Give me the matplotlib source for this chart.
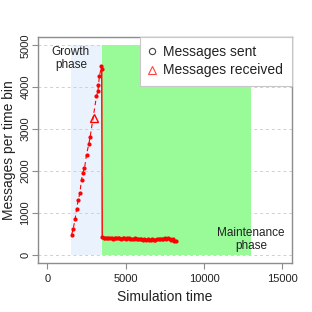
import matplotlib
matplotlib.use("Agg")
import matplotlib.pyplot as plt
from matplotlib.lines import Line2D

plt.rcParams["font.family"] = ["Liberation Sans", "DejaVu Sans"]

# phase boundaries (simulation time) and their vertical extent
GROWTH_SPAN = [1500, 3500]
MAINT_SPAN = [3500, 13000]
SPAN_Y = [0, 5000]

# messages sent during growth (dashed)
growth_t = [1541, 1643, 1771, 1860, 1962, 2070, 2178, 2261, 2369, 2497,
            2643, 2726, 3134, 3236, 3261, 3325, 3452]
growth_sent = [467, 610, 849, 1081, 1297, 1464, 1789, 1957, 2062, 2388,
               2644, 2804, 3785, 3919, 4062, 4263, 4502]

# messages sent during maintenance (solid)
maint_t = [3470, 3500, 3600, 3700, 3800, 3900, 4000, 4100, 4200, 4300, 4400,
           4500, 4600, 4700, 4800, 4900, 5000, 5100, 5200, 5300, 5400,
           5500, 5600, 5700, 5800, 5900, 6000, 6100, 6200, 6300, 6400,
           6500, 6600, 6700, 6800, 6900, 7000, 7100, 7200, 7300, 7400,
           7500, 7600, 7700, 7800, 7900, 8000, 8100, 8200]
maint_sent = [4440, 410, 400, 395, 405, 390, 400, 395, 385, 400, 395,
              405, 390, 385, 400, 395, 380, 390, 395, 380, 385,
              375, 390, 380, 370, 375, 365, 360, 370, 355, 365,
              350, 360, 370, 340, 355, 365, 380, 370, 385, 375,
              390, 380, 395, 370, 340, 375, 320, 330]

# messages received
recv_t = [2962]
recv_val = [3258]

X_TICKS = [0, 5000, 10000, 15000]
Y_TICKS = [0, 1000, 2000, 3000, 4000, 5000]

GRAY = "#8c8c8c"
TXT = "#222222"

fig = plt.figure(figsize=(3.12, 3.12), dpi=100)
ax = fig.add_axes([38 / 312, 1 - 263 / 312, 253.7 / 312, 226 / 312])

ax.fill_between(GROWTH_SPAN, SPAN_Y[0], SPAN_Y[1], color="#eaf3fd", lw=0, zorder=0.5)
ax.fill_between(MAINT_SPAN, SPAN_Y[0], SPAN_Y[1], color="#98fb98", lw=0, zorder=1.0)

for yv in Y_TICKS:
    ax.axhline(yv, color="#d0d0d0", lw=0.7, ls=(0, (3, 3)), zorder=0.8)

ax.plot(growth_t, growth_sent, color="red", lw=0.8, ls=(0, (4, 3)),
        marker="o", ms=2.0, mec="red", mfc="red", zorder=3)
ax.plot(maint_t, maint_sent, color="red", lw=1.0, ls="-",
        marker="o", ms=2.0, mec="red", mfc="red", zorder=3)
ax.plot(recv_t, recv_val, ls="none", marker="^", ms=6, mfc="none",
        mec="red", mew=1.0, zorder=4)

ax.text(1500, 4690, "Growth\nphase", ha="center", va="center",
        fontsize=8.5, color=TXT, linespacing=1.05, zorder=5)
ax.text(13000, 365, "Maintenance\nphase", ha="center", va="center",
        fontsize=8.5, color=TXT, linespacing=1.05, zorder=5)

ax.set_xlim(-600, 15600)
ax.set_ylim(-200, 5200)
ax.set_xticks(X_TICKS)
ax.set_yticks(Y_TICKS)
ax.set_xticklabels([str(v) for v in X_TICKS], fontsize=8, color=TXT)
ax.set_yticklabels([str(v) for v in Y_TICKS], fontsize=8, color=TXT,
                   rotation=90, va="center")
ax.tick_params(axis="both", direction="out", length=4, width=0.8, color=GRAY)
ax.tick_params(axis="x", pad=4)
ax.tick_params(axis="y", pad=1.5)
for sp in ax.spines.values():
    sp.set_color(GRAY)
    sp.set_linewidth(1.0)

ax.set_xlabel("Simulation time", fontsize=10, color=TXT, labelpad=4.5)
ax.set_ylabel("Messages per time bin", fontsize=10, color=TXT, labelpad=3)

handles = [
    Line2D([], [], ls="none", marker="o", ms=4.5, mfc="none", mec="#444444", mew=0.8),
    Line2D([], [], ls="none", marker="^", ms=6, mfc="none", mec="#ff4040", mew=0.8),
]
leg = ax.legend(handles, ["Messages sent", "Messages received"], loc="upper right",
                fontsize=10, frameon=True, fancybox=False, framealpha=1,
                edgecolor="#c8c8c8", borderaxespad=0, borderpad=0.6,
                handlelength=0.5, handletextpad=0.6, labelspacing=0.3)
leg.get_frame().set_linewidth(0.8)
for t in leg.get_texts():
    t.set_color(TXT)
leg.set_zorder(10)

fig.savefig("out.png", dpi=100)
